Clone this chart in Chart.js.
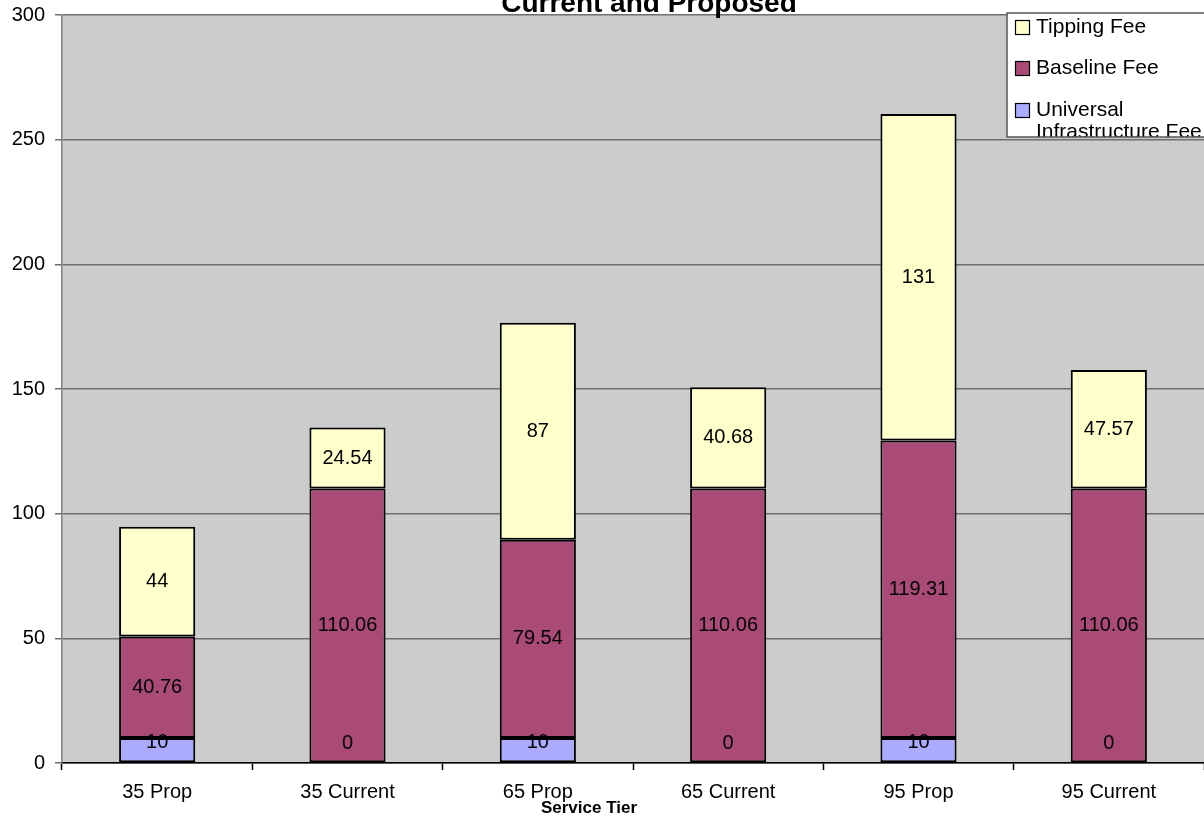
<!DOCTYPE html>
<html>
<head>
<meta charset="utf-8">
<script src="https://cdn.jsdelivr.net/npm/chart.js@4.4.1/dist/chart.umd.min.js"></script>
<style>
  html, body { margin: 0; padding: 0; background: #fff; }
  #wrap { width: 1204px; height: 835px; position: relative; overflow: hidden; }
</style>
</head>
<body>
<div id="wrap"><canvas id="feeChart" width="1204" height="835"></canvas></div>
<script>
// Monthly fee components per service tier
const tiers = ['35 Prop', '35 Current', '65 Prop', '65 Current', '95 Prop', '95 Current'];
const universalFee = [10, 0, 10, 0, 10, 0];
const baselineFee = [40.76, 110.06, 79.54, 110.06, 119.31, 110.06];
const tippingFee = [44, 24.54, 87, 40.68, 131, 47.57];
const yMin = 0;
const yMax = 300;
const yStep = 50;

const FONT = '"Liberation Sans", Arial, sans-serif';
const COLORS = { universal: '#aaaaff', baseline: '#aa4a77', tipping: '#ffffcc' };

// gray plot background
const plotBackground = {
    id: 'plotBackground',
    beforeDraw(chart) {
        const { ctx, chartArea: a } = chart;
        ctx.save();
        ctx.fillStyle = '#cccccc';
        ctx.fillRect(a.left, a.top, a.right - a.left, a.bottom - a.top);
        ctx.restore();
    }
};

// value labels in the middle of each segment
const segmentLabels = {
    id: 'segmentLabels',
    afterDatasetsDraw(chart) {
        const ctx = chart.ctx;
        ctx.save();
        ctx.font = '20px ' + FONT;
        ctx.fillStyle = '#000';
        ctx.textAlign = 'center';
        ctx.textBaseline = 'middle';
        chart.data.datasets.forEach((ds, di) => {
            chart.getDatasetMeta(di).data.forEach((bar, i) => {
                const y = Math.min((bar.y + bar.base) / 2, bar.base - 20);
                ctx.fillText(String(ds.data[i]), bar.x, y);
            });
        });
        ctx.restore();
    }
};

// title, x axis caption and boxed legend
const decorations = {
    id: 'decorations',
    afterDraw(chart) {
        const ctx = chart.ctx;
        ctx.save();
        ctx.fillStyle = '#000';
        ctx.textAlign = 'center';
        ctx.textBaseline = 'alphabetic';
        ctx.font = 'bold 28px ' + FONT;
        ctx.fillText('Current and Proposed', 649, 12);

        ctx.textBaseline = 'middle';
        ctx.font = 'bold 17px ' + FONT;
        ctx.fillText('Service Tier', 589, 808);

        // legend box
        const bx = 1007, by = 13, bw = 210, bh = 124;
        ctx.fillStyle = '#fff';
        ctx.fillRect(bx, by, bw, bh);
        ctx.beginPath();
        ctx.rect(bx, by, bw, bh);
        ctx.clip();

        const items = [
            { text: ['Tipping Fee'], color: COLORS.tipping, y: 27 },
            { text: ['Baseline Fee'], color: COLORS.baseline, y: 68 },
            { text: ['Universal', 'Infrastructure Fee'], color: COLORS.universal, y: 110 }
        ];
        ctx.font = '21px ' + FONT;
        ctx.textAlign = 'left';
        items.forEach(it => {
            ctx.fillStyle = it.color;
            ctx.fillRect(1015, it.y - 7, 15, 15);
            ctx.strokeStyle = '#000';
            ctx.lineWidth = 1.2;
            ctx.strokeRect(1015.5, it.y - 6.5, 14, 14);
            ctx.fillStyle = '#000';
            it.text.forEach((t, k) => ctx.fillText(t, 1036, it.y + k * 22));
        });
        ctx.restore();

        ctx.save();
        ctx.strokeStyle = '#555';
        ctx.lineWidth = 1.5;
        ctx.strokeRect(bx, by, bw, bh);
        ctx.restore();
    }
};

const barStyle = { borderColor: '#000', borderWidth: 2, borderSkipped: false,
                   barPercentage: 0.4, categoryPercentage: 1.0 };

new Chart(document.getElementById('feeChart'), {
    type: 'bar',
    data: {
        labels: tiers,
        datasets: [
            Object.assign({ label: 'Universal Infrastructure Fee', data: universalFee, backgroundColor: COLORS.universal }, barStyle),
            Object.assign({ label: 'Baseline Fee', data: baselineFee, backgroundColor: COLORS.baseline }, barStyle),
            Object.assign({ label: 'Tipping Fee', data: tippingFee, backgroundColor: COLORS.tipping }, barStyle)
        ]
    },
    options: {
        responsive: false,
        animation: false,
        devicePixelRatio: 1,
        layout: { padding: { top: 15, left: 0, right: 0, bottom: 0 } },
        plugins: {
            legend: { display: false },
            tooltip: { enabled: false }
        },
        scales: {
            x: {
                stacked: true,
                grid: { offset: true, drawOnChartArea: false, tickLength: 7, tickColor: '#000', tickWidth: 1.5 },
                border: { color: '#000', width: 1.5 },
                ticks: { color: '#000', font: { family: FONT, size: 20 }, padding: 10, autoSkip: false, maxRotation: 0 },
                afterFit(scale) { scale.height = 72; scale.paddingLeft = 0; scale.paddingRight = 0; }
            },
            y: {
                stacked: true,
                min: yMin,
                max: yMax,
                grid: { color: '#6e6e6e', lineWidth: 1.5, tickLength: 7, tickColor: '#6e6e6e' },
                border: { color: '#808080', width: 1.5 },
                ticks: { stepSize: yStep, color: '#000', font: { family: FONT, size: 20 }, padding: 10 },
                afterFit(scale) { scale.width = 62; scale.paddingTop = 0; scale.paddingBottom = 0; }
            }
        }
    },
    plugins: [plotBackground, segmentLabels, decorations]
});
</script>
</body>
</html>
